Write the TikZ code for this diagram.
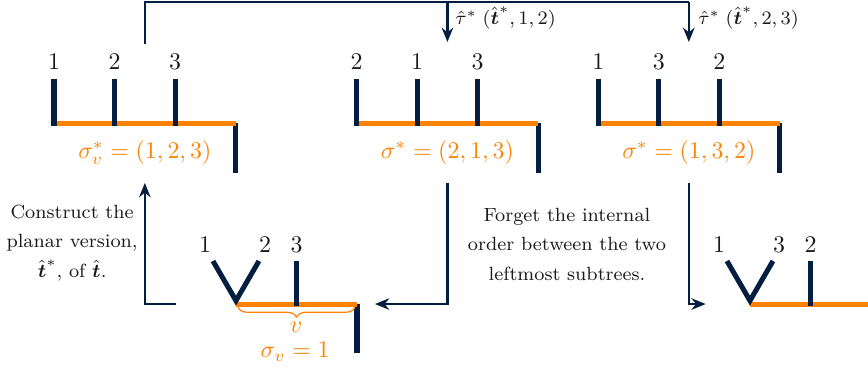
\documentclass[tikz,border=0pt]{standalone}
\usepackage{amsmath}
\usepackage{amssymb}
\usetikzlibrary{arrows.meta,calc,positioning,decorations.pathreplacing}
\definecolor{navy}{HTML}{041E42}
\definecolor{orng}{HTML}{FF8200}
\definecolor{ink}{HTML}{1A1A1A}
\tikzset{
  % ---- tree pieces ------------------------------------------------
  leafbar/.style  = {draw=navy, line width=2.1pt},
  rootbar/.style  = {draw=navy, line width=2.1pt},
  spinebar/.style = {draw=orng, line width=2.1pt},
  lbl/.style      = {text=ink, inner sep=0pt},
  perml/.style    = {text=orng, inner sep=0pt},
  brc/.style      = {draw=orng, line width=.5pt, decorate,
                     decoration={brace, mirror, amplitude=4pt}},
  % ---- moves between trees ----------------------------------------
  flow/.style     = {draw=navy, line width=.9pt},
  move/.style     = {flow, -{Stealth[length=2.1mm, width=1.7mm]}},
  movelab/.style  = {font=\footnotesize, text=ink, anchor=west, inner sep=0pt},
  note/.style     = {font=\footnotesize\linespread{1.3}\selectfont,
                     text=ink, align=center},
}
\begin{document}
\begin{tikzpicture}
\clip (0,0) rectangle (12.765,5.397);
% ---- top left: sigma_v^* = (1,2,3) ----
\draw[rootbar] (3.464, 3.588) -- (3.464, 2.853);
\draw[spinebar] (0.794, 3.588) -- (3.464, 3.588);
\draw[leafbar] (0.794, 4.235) -- (0.794, 3.55);
\draw[leafbar] (1.684, 4.235) -- (1.684, 3.55);
\draw[leafbar] (2.574, 4.235) -- (2.574, 3.55);
\node[lbl] (a1) at (0.794, 4.485) {1};
\node[lbl] (a2) at (1.684, 4.485) {2};
\node[lbl] (a3) at (2.574, 4.485) {3};
\node[perml] (sgA) at (2.13, 3.16) {$\sigma_v^* = (1,2,3)$};
% ---- top middle: (2,1,3) ----
\draw[rootbar] (7.915, 3.588) -- (7.915, 2.853);
\draw[spinebar] (5.245, 3.588) -- (7.915, 3.588);
\draw[leafbar] (5.245, 4.235) -- (5.245, 3.55);
\draw[leafbar] (6.135, 4.235) -- (6.135, 3.55);
\draw[leafbar] (7.025, 4.235) -- (7.025, 3.55);
\node[lbl] (b1) at (5.245, 4.485) {2};
\node[lbl] (b2) at (6.135, 4.485) {1};
\node[lbl] (b3) at (7.025, 4.485) {3};
\node[perml] (sgB) at (6.58, 3.16) {$\sigma^* = (2,1,3)$};
% ---- top right: (1,3,2) ----
\draw[rootbar] (11.469, 3.588) -- (11.469, 2.853);
\draw[spinebar] (8.799, 3.588) -- (11.469, 3.588);
\draw[leafbar] (8.799, 4.235) -- (8.799, 3.55);
\draw[leafbar] (9.689, 4.235) -- (9.689, 3.55);
\draw[leafbar] (10.579, 4.235) -- (10.579, 3.55);
\node[lbl] (c1) at (8.799, 4.485) {1};
\node[lbl] (c2) at (9.689, 4.485) {3};
\node[lbl] (c3) at (10.579, 4.485) {2};
\node[perml] (sgC) at (10.13, 3.16) {$\sigma^* = (1,3,2)$};
% ---- bottom left: non-planar tree ----
\draw[rootbar] (5.25, 0.926) -- (5.25, 0.206);
\draw[spinebar] (3.47, 0.926) -- (5.25, 0.926);
\draw[leafbar] (3.132, 1.559) -- (3.47, 0.975) -- (3.808, 1.559);
\draw[leafbar] (4.36, 1.559) -- (4.36, 0.89);
\node[lbl] (d1) at (3.015, 1.794) {1};
\node[lbl] (d2) at (3.897, 1.794) {2};
\node[lbl] (d3) at (4.36, 1.794) {3};
\draw[brc] (3.5, 0.875) -- (5.22, 0.875);
\node[perml] (vA) at (4.353, 0.588) {$v$};
\node[perml] (sgD) at (4.34, 0.22) {$\sigma_v = 1$};
% ---- bottom right: forgotten order ----
\draw[rootbar] (12.809, 0.926) -- (12.809, 0.206);
\draw[spinebar] (11.029, 0.926) -- (12.809, 0.926);
\draw[leafbar] (10.691, 1.559) -- (11.029, 0.975) -- (11.367, 1.559);
\draw[leafbar] (11.919, 1.559) -- (11.919, 0.89);
\node[lbl] (e1) at (10.574, 1.794) {1};
\node[lbl] (e2) at (11.456, 1.794) {3};
\node[lbl] (e3) at (11.919, 1.794) {2};
% ---- transpositions along the top ----
\coordinate (upS) at (2.13, 4.75);
\coordinate (topB) at (6.58, 5.372);
\coordinate (topC) at (10.13, 5.372);
\coordinate (inB) at (6.58, 4.78);
\coordinate (inC) at (10.13, 4.78);
\draw[flow] (upS) |- (topC);
\draw[move] (topB) -- (inB);
\draw[move] (topC) -- (inC);
\node[movelab] (tauB) at (6.69, 5.13) {$\hat\tau^*\;(\hat{\boldsymbol{t}}^*, 1, 2)$};
\node[movelab] (tauC) at (10.265, 5.13) {$\hat\tau^*\;(\hat{\boldsymbol{t}}^*, 2, 3)$};
% ---- bottom moves ----
\coordinate (lS) at (2.59, 0.926);
\coordinate (lE) at (2.13, 2.706);
\draw[move] (lS) -| (lE);
\coordinate (mS) at (6.58, 2.706);
\coordinate (mE) at (5.515, 0.926);
\draw[move] (mS) |- (mE);
\coordinate (rS) at (10.13, 2.706);
\coordinate (rE) at (10.378, 0.926);
\draw[move] (rS) |- (rE);
\node[note] (ntA) at (1.06, 1.824) {Construct the\\planar version,\\$\hat{\boldsymbol{t}}^*$, of $\hat{\boldsymbol{t}}$.};
\node[note] (ntB) at (8.338, 1.809) {Forget the internal\\order between the two\\leftmost subtrees.};
\end{tikzpicture}
\end{document}
